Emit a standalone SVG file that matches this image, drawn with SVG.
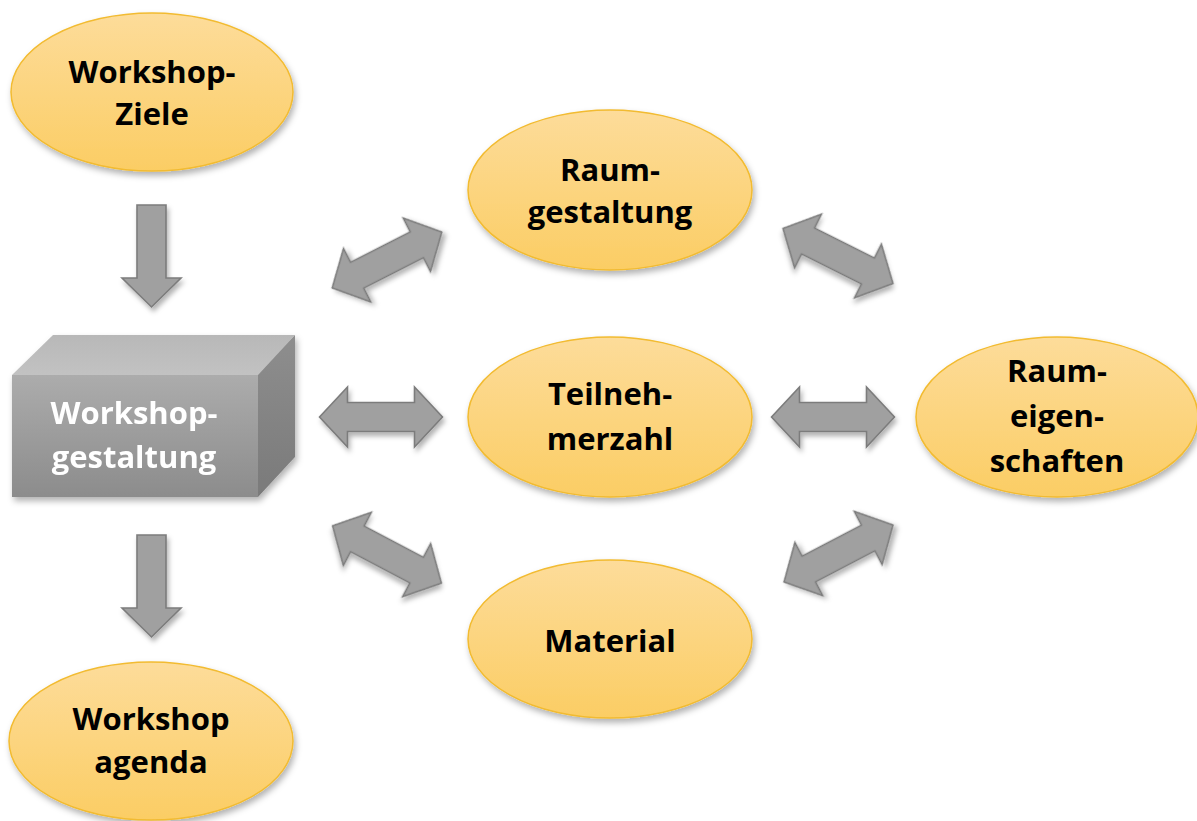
<svg xmlns="http://www.w3.org/2000/svg" xmlns:xlink="http://www.w3.org/1999/xlink" width="1197" height="821" viewBox="0 0 1197 821">
<style>
.ell{fill:url(#gy);stroke:#f2bb30;stroke-width:1.5;filter:url(#sh)}
.lbl{font-family:"Open Sans","Liberation Sans",sans-serif;font-weight:700;font-size:31px;fill:#000;text-anchor:middle}
.wl{fill:#ffffff}
.arr{fill:#a0a0a0;stroke:#7c7c7c;stroke-width:1.6;stroke-linejoin:miter;filter:url(#sh2)}
</style>
<defs>
<linearGradient id="gy" x1="0" y1="0" x2="0" y2="1">
<stop offset="0" stop-color="#fddc9a"/>
<stop offset="1" stop-color="#fbcd64"/>
</linearGradient>
<linearGradient id="gf" x1="0" y1="0" x2="0" y2="1">
<stop offset="0" stop-color="#acacac"/>
<stop offset="1" stop-color="#8c8c8c"/>
</linearGradient>
<linearGradient id="gt" x1="0" y1="0" x2="0" y2="1">
<stop offset="0" stop-color="#b8b8b8"/>
<stop offset="1" stop-color="#c2c2c2"/>
</linearGradient>
<linearGradient id="gs" x1="0" y1="0" x2="0" y2="1">
<stop offset="0" stop-color="#8e8e8e"/>
<stop offset="1" stop-color="#7a7a7a"/>
</linearGradient>
<filter id="sh" x="-20%" y="-20%" width="140%" height="150%">
<feDropShadow dx="2" dy="4" stdDeviation="3" flood-color="#000" flood-opacity="0.3"/>
</filter>
<filter id="sh2" x="-30%" y="-30%" width="160%" height="170%">
<feDropShadow dx="2" dy="4" stdDeviation="2.5" flood-color="#000" flood-opacity="0.3"/>
</filter>
<path id="dbl" d="M-61.5,0 L-33.5,-30 L-33.5,-14.5 L33.5,-14.5 L33.5,-30 L61.5,0 L33.5,30 L33.5,14.5 L-33.5,14.5 L-33.5,30 Z"/>
<path id="down" d="M-14.5,0 L14.5,0 L14.5,73 L29.5,73 L0,102 L-29.5,73 L-14.5,73 Z"/>
</defs>

<g id="connectors">
<use href="#down" class="arr" transform="translate(151.5,205)"/>
<use href="#down" class="arr" transform="translate(151.5,535)"/>
<use href="#dbl" class="arr" transform="translate(387,260) rotate(-27)"/>
<use href="#dbl" class="arr" transform="translate(381,417)"/>
<use href="#dbl" class="arr" transform="translate(387,554.5) rotate(27.8)"/>
<use href="#dbl" class="arr" transform="translate(838,256) rotate(26.6)"/>
<use href="#dbl" class="arr" transform="translate(833,417)"/>
<use href="#dbl" class="arr" transform="translate(838.5,553.5) rotate(-27.6)"/>
</g>

<g id="workshop-ziele">
<ellipse class="ell" cx="152" cy="92" rx="141" ry="79"/>
<text class="lbl" x="152" y="83">Workshop-</text>
<text class="lbl" x="152" y="125">Ziele</text>
</g>

<g id="workshop-gestaltung" filter="url(#sh)">
<polygon points="12,375 53,335 295,335 258,375" fill="url(#gt)"/>
<polygon points="258,375 295,335 295,457 258,497" fill="url(#gs)"/>
<rect x="12" y="375" width="246" height="122" fill="url(#gf)"/>
<text class="lbl wl" x="134" y="424">Workshop-</text>
<text class="lbl wl" x="134" y="468">gestaltung</text>
</g>

<g id="workshop-agenda">
<ellipse class="ell" cx="151" cy="741" rx="142" ry="79"/>
<text class="lbl" x="151" y="730">Workshop</text>
<text class="lbl" x="151" y="773">agenda</text>
</g>

<g id="raumgestaltung">
<ellipse class="ell" cx="610" cy="190" rx="142" ry="80"/>
<text class="lbl" x="610" y="181">Raum-</text>
<text class="lbl" x="610" y="223">gestaltung</text>
</g>

<g id="teilnehmerzahl">
<ellipse class="ell" cx="610" cy="417" rx="142" ry="80"/>
<text class="lbl" x="610" y="405">Teilneh-</text>
<text class="lbl" x="610" y="450">merzahl</text>
</g>

<g id="material">
<ellipse class="ell" cx="610" cy="639" rx="142" ry="79"/>
<text class="lbl" x="610" y="652">Material</text>
</g>

<g id="raumeigenschaften">
<ellipse class="ell" cx="1057" cy="417" rx="141" ry="80"/>
<text class="lbl" x="1057" y="382">Raum-</text>
<text class="lbl" x="1057" y="427">eigen-</text>
<text class="lbl" x="1057" y="472">schaften</text>
</g>
</svg>
